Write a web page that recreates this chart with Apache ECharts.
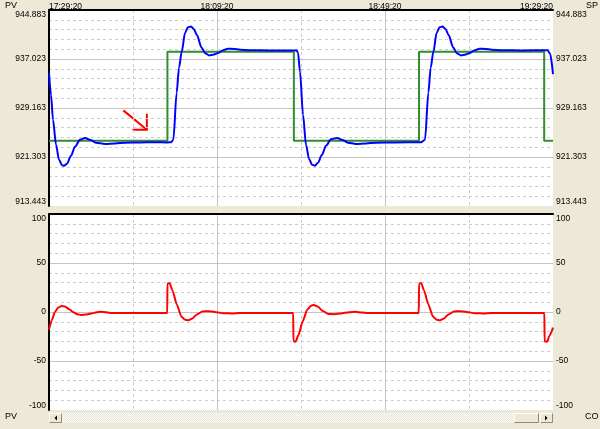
<!DOCTYPE html>
<html>
<head>
<meta charset="utf-8">
<script src="https://cdn.jsdelivr.net/npm/echarts@6/dist/echarts.min.js"></script>
<style>
html, body { margin: 0; padding: 0; background: #ece9d8; }
#chart { width: 600px; height: 429px; }
</style>
</head>
<body>
<div id="chart"></div>
<script>
// time is in minutes after the first sample (17:29:20)
var startSec = 17 * 3600 + 29 * 60 + 20;

// setpoint (green), step changes
var spTime = [0, 28.2, 58.3, 88.1, 117.9, 120];
var spValue = [923.9, 938.2, 923.9, 938.2, 923.9, 923.9];

// process value (blue)
var pvTime = [0, 0.48, 0.95, 1.67, 2.38, 3.1, 3.57, 4.29, 5.24, 6.19, 7.38, 8.57, 9.76, 11.19, 13.33, 15.71, 18.1, 21.67, 25.24, 28.1, 29.05,
  29.6, 30.4, 30.95, 31.6, 32.4, 33.1, 33.81, 34.52, 35.17, 36.36, 37.14, 38.17, 39.05, 40.31, 41.43, 42.62, 44.05, 45.48, 47.86, 52.62, 58.98,
  59.29, 59.76, 60.48, 61.19, 61.9, 62.62, 63.33, 64.05, 65.0, 65.95, 67.14, 68.57, 69.76, 71.19, 73.1, 75.48, 77.86, 82.38, 88.57,
  89.52, 90.33, 90.88, 91.52, 92.31, 93.02, 93.74, 94.45, 95.1, 96.29, 97.07, 98.1, 98.98, 100.24, 101.36, 102.55, 103.98, 105.4, 107.79, 112.55, 118.7, 119.3, 120];
var pvValue = [934.8, 931.3, 927.29, 923.28, 920.87, 919.99, 919.91, 920.23, 921.51, 922.95, 924.08, 924.35, 924.08, 923.6, 923.39, 923.48, 923.6, 923.64, 923.68, 923.64, 923.68,
  924.08, 931.62, 935.63, 938.19, 941.24, 942.12, 942.25, 941.8, 940.92, 938.83, 937.95, 937.6, 937.71, 937.99, 938.43, 938.67, 938.63, 938.52, 938.43, 938.4, 938.4,
  938.03, 935.03, 928.09, 923.28, 921.03, 920.07, 919.91, 920.39, 921.67, 923.12, 924.16, 924.35, 924.08, 923.6, 923.39, 923.48, 923.6, 923.64, 923.68,
  924.08, 931.62, 935.63, 938.19, 941.24, 942.12, 942.25, 941.8, 940.92, 938.83, 937.95, 937.6, 937.71, 937.99, 938.43, 938.67, 938.63, 938.52, 938.43, 938.4, 938.42, 937.9, 934.6];

// controller output (red)
var coTime = [0, 0.7, 1.4, 2.2, 3.0, 3.8, 4.8, 5.8, 6.8, 7.6, 8.8, 10.0, 11.4, 12.4, 13.6, 15, 28.15,
  28.2, 28.7, 29.4, 30.4, 31.5, 32.4, 33.1, 34.0, 35.2, 36.5, 38, 39.5, 41.5, 43.5, 45.5, 58.15,
  58.2, 58.7, 59.4, 60.4, 61.5, 62.4, 63.1, 64.0, 65.2, 66.5, 68, 69.5, 71.5, 72.9, 74.5, 76, 88.05,
  88.1, 88.6, 89.3, 90.3, 91.4, 92.3, 93.0, 93.9, 95.1, 96.4, 97.9, 99.4, 101.4, 103.4, 105.4, 117.95,
  118.0, 118.6, 119.2, 120];
var coValue = [-18, -8, 0, 4.5, 6.2, 5.6, 2.8, -0.3, -2.4, -3, -2.6, -1.5, -0.3, 0.3, -0.3, -1, -1,
  29, 29.5, 22, 8, -4.5, -8, -8.5, -7, -2.5, 0.5, 0.8, 0, -1.3, -1.5, -1, -1,
  -29.8, -30.3, -23.5, -9.5, 2.5, 6.5, 7.2, 5.5, 1.0, -2.0, -2.3, -1.5, -0.2, 0.3, -0.6, -1, -1,
  29, 29.5, 22, 8, -4.5, -8, -8.5, -7, -2.5, 0.5, 0.8, 0, -1.3, -1.5, -1, -1,
  -30, -30.3, -24, -16];

// axis ranges
var pvMin = 913.443, pvMax = 944.883, pvStep = 7.86;
var coMin = -100, coMax = 100, coStep = 50;

// red annotation arrow: tail, tip, head top, head left
var arrowTime = [17.7, 23.3, 23.3, 19.9];
var arrowValue = [928.78, 925.69, 928.25, 925.69];

var font = 'Liberation Sans';

function zip(a, b) {
  return a.map(function (v, i) { return [v, b[i]]; });
}

function pad(n) { return (n < 10 ? '0' : '') + n; }

function fmtTime(v) {
  var s = Math.round(startSec + v * 60);
  return pad(Math.floor(s / 3600)) + ':' + pad(Math.floor(s / 60) % 60) + ':' + pad(s % 60);
}

function xAx(gi, showLabel) {
  return {
    type: 'value', gridIndex: gi, position: 'top', min: 0, max: 120, interval: 40,
    axisLine: { show: true, onZero: false, lineStyle: { color: '#000', width: 2 } },
    axisTick: { show: false },
    axisLabel: {
      show: showLabel, formatter: fmtTime, margin: -1, fontSize: 8.5, color: '#000', fontFamily: font,
      alignMinLabel: 'left', alignMaxLabel: 'right'
    },
    splitLine: { show: true, showMinLine: false, showMaxLine: false, lineStyle: { color: '#c4c4c4', width: 1 } },
    minorTick: { show: false, splitNumber: 2 },
    minorSplitLine: { show: true, lineStyle: { color: '#cccccc', width: 1, type: [3, 3] } }
  };
}

function yAx(gi, pos, min, max, step, fmt, lines) {
  return {
    type: 'value', gridIndex: gi, position: pos, min: min, max: max, interval: step,
    axisLine: { show: lines, onZero: false, lineStyle: { color: '#000', width: 2 } },
    axisTick: { show: false },
    axisLabel: {
      formatter: fmt, margin: 3, fontSize: 8.5, color: '#000', fontFamily: font,
      verticalAlignMinLabel: 'bottom', verticalAlignMaxLabel: 'top'
    },
    splitLine: { show: lines, showMinLine: false, showMaxLine: false, lineStyle: { color: '#c4c4c4', width: 1 } },
    minorTick: { show: false, splitNumber: 5 },
    minorSplitLine: { show: lines, lineStyle: { color: '#cccccc', width: 1, type: [3, 3] } }
  };
}

function fmtPv(v) { return v.toFixed(3); }
function fmtCo(v) { return String(Math.round(v)); }

// checkered scrollbar track
var pat = document.createElement('canvas');
pat.width = 2; pat.height = 2;
var pc = pat.getContext('2d');
pc.fillStyle = '#ffffff'; pc.fillRect(0, 0, 2, 2);
pc.fillStyle = '#e6e2d2'; pc.fillRect(0, 0, 1, 1); pc.fillRect(1, 1, 1, 1);

function button(x, w) {
  return [
    { type: 'rect', shape: { x: x, y: 413, width: w, height: 10 }, style: { fill: '#ece9d8' } },
    { type: 'polyline', shape: { points: [[x + 0.5, 422.5], [x + 0.5, 413.5], [x + w - 0.5, 413.5]] }, style: { stroke: '#ffffff', fill: null } },
    { type: 'polyline', shape: { points: [[x + 0.5, 422.5], [x + w - 0.5, 422.5], [x + w - 0.5, 413.5]] }, style: { stroke: '#8e8b7e', fill: null } }
  ];
}

function label(text, x, y) {
  return { type: 'text', left: x, top: y, style: { text: text, font: '9px "Liberation Sans"', fill: '#000' } };
}

var graphics = [
  { type: 'rect', shape: { x: 49, y: 413, width: 504, height: 10 }, style: { fill: { image: pat, repeat: 'repeat' } } }
].concat(button(49, 13), button(514, 25), button(540, 13), [
  { type: 'polygon', shape: { points: [[57, 415.5], [57, 420.5], [54.5, 418]] }, style: { fill: '#000' } },
  { type: 'polygon', shape: { points: [[545, 415.5], [545, 420.5], [547.5, 418]] }, style: { fill: '#000' } },
  label('PV', 5, 1),
  label('SP', 586, 1),
  label('PV', 5, 412),
  label('CO', 585, 412)
]);

var chart = echarts.init(document.getElementById('chart'));

var option = {
  animation: false,
  backgroundColor: '#ece9d8',
  grid: [
    { left: 49, width: 504, top: 10, height: 196, show: true, backgroundColor: '#ffffff', borderWidth: 0 },
    { left: 49, width: 504, top: 214, height: 196, show: true, backgroundColor: '#ffffff', borderWidth: 0 }
  ],
  xAxis: [xAx(0, true), xAx(1, false)],
  yAxis: [
    yAx(0, 'left', pvMin, pvMax, pvStep, fmtPv, true),
    yAx(0, 'right', pvMin, pvMax, pvStep, fmtPv, false),
    yAx(1, 'left', coMin, coMax, coStep, fmtCo, true),
    yAx(1, 'right', coMin, coMax, coStep, fmtCo, false)
  ],
  series: [
    {
      name: 'SP', type: 'line', xAxisIndex: 0, yAxisIndex: 0, step: 'end', symbol: 'none',
      lineStyle: { color: '#2f8f2f', width: 2 }, data: zip(spTime, spValue)
    },
    {
      name: 'PV', type: 'line', xAxisIndex: 0, yAxisIndex: 0, symbol: 'none', smooth: 0.3, smoothMonotone: 'x',
      lineStyle: { color: '#0000ff', width: 2 }, data: zip(pvTime, pvValue)
    },
    {
      name: 'CO', type: 'line', xAxisIndex: 1, yAxisIndex: 2, symbol: 'none', smooth: 0.2, smoothMonotone: 'x',
      lineStyle: { color: '#ff0000', width: 2 }, data: zip(coTime, coValue)
    }
  ],
  graphic: graphics
};

chart.setOption(option);

// arrow annotation, placed through the grid's own scales
var ap = arrowTime.map(function (t, i) {
  return chart.convertToPixel({ gridIndex: 0 }, [t, arrowValue[i]]);
});
chart.setOption({
  graphic: graphics.concat([
    { type: 'polyline', shape: { points: [ap[0], ap[1]] }, style: { stroke: '#ff0000', lineWidth: 2, fill: null } },
    { type: 'polyline', shape: { points: [ap[2], ap[1], ap[3]] }, style: { stroke: '#ff0000', lineWidth: 2, fill: null } }
  ])
});
</script>
</body>
</html>
